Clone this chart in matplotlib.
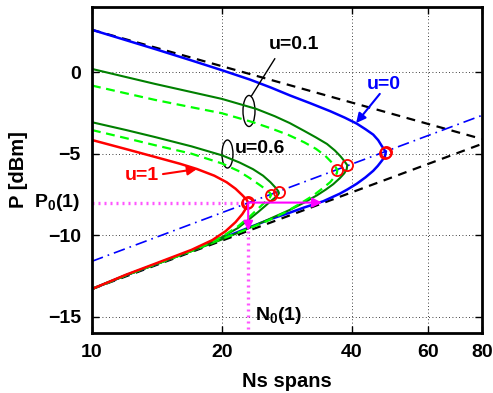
import matplotlib
matplotlib.use("Agg")
import matplotlib.pyplot as plt
from matplotlib.patches import Ellipse
from matplotlib.ticker import NullLocator

plt.rcParams['font.family'] = ['Liberation Sans', 'DejaVu Sans']
plt.rcParams['font.weight'] = 'bold'
plt.rcParams['mathtext.fontset'] = 'custom'
plt.rcParams['mathtext.rm'] = 'Liberation Sans:bold'
plt.rcParams['mathtext.bf'] = 'Liberation Sans:bold'
plt.rcParams['mathtext.it'] = 'Liberation Sans:bold'

# asymptotes and line through the noses (Ns, P dBm)
n_lim = [10, 80]
p_upper_asym = [2.6, -4.1]
p_lower_asym = [-13.3, -4.4]
p_nose_line = [-11.6, -2.65]

# u=0 (blue)
n_u0 = [10, 12, 14, 17, 20, 23.2, 26, 28.7, 32, 35.6, 38.5, 41, 43, 44.8, 46, 46.9, 47.5, 47.9,
        47.7, 47.0, 45.9, 44.8, 43, 41, 39, 37.5, 34.3, 31, 28.7, 26, 23, 20, 17, 14, 12, 10]
p_u0 = [2.6, 1.96, 1.42, 0.72, 0.12, -0.45, -0.95, -1.42, -1.9, -2.39, -2.79, -3.15, -3.5, -3.83, -4.17, -4.53, -4.75, -4.92,
        -5.15, -5.4, -5.75, -6.05, -6.45, -6.85, -7.2, -7.45, -7.92, -8.3, -8.62, -9.0, -9.55, -10.2, -10.95, -11.8, -12.45, -13.3]

# u=0.1 solid / dashed
n_u01 = [10, 12, 14, 17, 20, 24, 26.5, 28.7, 31, 33, 35, 36.5, 37.6, 38.4, 39.0,
         38.9, 38.4, 37.5, 36.2, 34.8, 33.2, 31, 28.7, 25.4, 23, 21.2, 19, 17, 14, 12, 10]
p_u01 = [0.2, -0.3, -0.72, -1.22, -1.64, -2.25, -2.7, -3.12, -3.6, -4.0, -4.4, -4.8, -5.15, -5.45, -5.7,
         -5.95, -6.2, -6.5, -6.87, -7.2, -7.55, -8.0, -8.45, -9.08, -9.58, -9.98, -10.5, -10.95, -11.8, -12.45, -13.3]
n_u01d = [10, 12, 14, 17, 20, 23.6, 26, 28.5, 31, 33, 34.6, 35.8, 36.6, 37.0,
          36.9, 36.4, 35.6, 34.3, 32.6, 30.4, 28, 25.6, 22.8, 20, 17, 14, 12, 10]
p_u01d = [-0.82, -1.3, -1.7, -2.15, -2.52, -3.07, -3.45, -3.85, -4.3, -4.7, -5.1, -5.5, -5.8, -6.0,
          -6.2, -6.45, -6.75, -7.1, -7.55, -8.05, -8.6, -9.1, -9.65, -10.22, -10.97, -11.8, -12.45, -13.3]

# u=0.6 solid / dashed
n_u06 = [10, 12, 14, 17, 20, 22, 23.6, 24.9, 25.9, 26.6, 27.0, 27.1,
         26.8, 26.1, 25.2, 24.2, 23, 21.8, 20, 17.5, 14, 12, 10]
p_u06 = [-3.07, -3.55, -3.98, -4.55, -5.1, -5.55, -5.95, -6.35, -6.75, -7.08, -7.3, -7.42,
         -7.62, -7.85, -8.2, -8.6, -9.07, -9.55, -10.12, -10.85, -11.8, -12.45, -13.3]
n_u06d = [10, 12, 14, 17, 20, 21.8, 23.2, 24.4, 25.3, 25.8, 26.0,
          25.8, 25.2, 24.3, 23.2, 21.8, 20, 17.5, 14, 12, 10]
p_u06d = [-3.55, -4.05, -4.48, -5.0, -5.6, -6.05, -6.5, -6.9, -7.2, -7.4, -7.53,
          -7.7, -7.95, -8.35, -8.85, -9.45, -10.1, -10.85, -11.8, -12.45, -13.3]

# u=1 (red)
n_u1 = [10, 12, 14, 16, 17.5, 19.2, 20.5, 21.5, 22.3, 22.8, 23.0,
        22.8, 22.3, 21.5, 20.4, 19, 17, 14, 12, 10]
p_u1 = [-4.16, -4.72, -5.2, -5.62, -5.94, -6.35, -6.75, -7.15, -7.55, -7.82, -8.0,
        -8.3, -8.7, -9.2, -9.75, -10.3, -10.9, -11.75, -12.42, -13.3]

# noses
n_nose = [47.9, 47.6, 39.0, 37.0, 27.1, 26.0, 23.0, 22.8]
p_nose = [-4.92, -4.98, -5.70, -6.0, -7.38, -7.52, -7.99, -8.05]

n0 = 23.0
p0 = -8.0
p_low0 = -9.73
n_low0 = 34.1

fig = plt.figure(figsize=(4.93, 3.93), dpi=100)
ax = fig.add_axes([0.1866, 0.1527, 0.791, 0.8295])
ax.set_xscale('log')

ax.plot(n_lim, p_upper_asym, '--', color='k', lw=1.6, dashes=(4, 3))
ax.plot(n_lim, p_lower_asym, '--', color='k', lw=1.6, dashes=(4, 3))
ax.plot(n_lim, p_nose_line, '-.', color='b', lw=1.2, dashes=(7, 3, 1, 3))

ax.plot([10, n0], [p0, p0], color='#FF55FF', lw=2.4, linestyle=(0, (0.6, 1.2)))
ax.plot([n0, n0], [p_low0, -16], color='#FF55FF', lw=2.4, linestyle=(0, (0.6, 1.2)))

ax.plot(n_u0, p_u0, color='#0000FF', lw=1.8)
ax.plot(n_u01, p_u01, color='#008000', lw=1.5)
ax.plot(n_u01d, p_u01d, '--', color='#00FF00', lw=1.6, dashes=(4, 2.5))
ax.plot(n_u06, p_u06, color='#008000', lw=1.5)
ax.plot(n_u06d, p_u06d, '--', color='#00FF00', lw=1.6, dashes=(4, 2.5))
ax.plot(n_u1, p_u1, color='#FF0000', lw=1.8)

ax.plot(n_nose, p_nose, 'o', mfc='none', mec='r', ms=8, mew=1.3)

arrow_m = dict(arrowstyle='-|>', color='#FF00FF', lw=1.5, mutation_scale=14, shrinkA=0, shrinkB=0)
ax.annotate('', xy=(n0, p_low0), xytext=(n0, p0), arrowprops=arrow_m)
ax.annotate('', xy=(n_low0, p0), xytext=(n0, p0), arrowprops=arrow_m)

ax.annotate('', xy=(40.9, -3.12), xytext=(46.4, -1.33),
            arrowprops=dict(arrowstyle='-|>', color='b', lw=1.5, mutation_scale=14, shrinkA=0, shrinkB=0))
ax.text(43.3, -0.78, 'u=0', color='b', fontsize=14, fontweight='bold', va='center', ha='left')
ax.annotate('', xy=(17.5, -5.94), xytext=(14.6, -6.25),
            arrowprops=dict(arrowstyle='-|>', color='r', lw=1.5, mutation_scale=14, shrinkA=0, shrinkB=0))
ax.text(11.9, -6.31, 'u=1', color='r', fontsize=14, fontweight='bold', va='center', ha='left')

ax.add_patch(Ellipse((0.4026, 0.681), 0.0308, 0.0951, transform=ax.transAxes, fill=False, ec='k', lw=1))
ax.add_patch(Ellipse((0.3474, 0.549), 0.0282, 0.0859, transform=ax.transAxes, fill=False, ec='k', lw=1))
ax.plot([23.4, 26.5], [-1.46, 0.82], color='k', lw=1)
ax.text(25.6, 1.68, 'u=0.1', color='k', fontsize=14, fontweight='bold', va='center', ha='left')
ax.text(21.4, -4.71, 'u=0.6', color='k', fontsize=14, fontweight='bold', va='center', ha='left')

ax.text(9.4, p0, r'$\mathbf{P_0(1)}$', fontsize=14, ha='right', va='center', clip_on=False)
ax.text(23.87, -14.95, r'$\mathbf{N_0(1)}$', fontsize=14, ha='left', va='center')

ax.set_xlim(10, 80)
ax.set_ylim(-16, 4)
ax.set_xticks([10, 20, 40, 60, 80])
ax.set_xticklabels(['10', '20', '40', '60', '80'])
ax.xaxis.set_minor_locator(NullLocator())
ax.set_yticks([-15, -10, -5, 0])
ax.tick_params(direction='in', length=5, width=1, top=True, right=True, labelsize=14, pad=8)
ax.grid(True, linestyle=(0, (1, 3)), color='k', lw=0.6)
for s in ax.spines.values():
    s.set_linewidth(2)

ax.set_xlabel('Ns spans', fontsize=14.5, fontweight='bold', labelpad=8)
ax.set_ylabel('P [dBm]', fontsize=14.5, fontweight='bold', labelpad=14)

fig.savefig('out.png', dpi=100)
